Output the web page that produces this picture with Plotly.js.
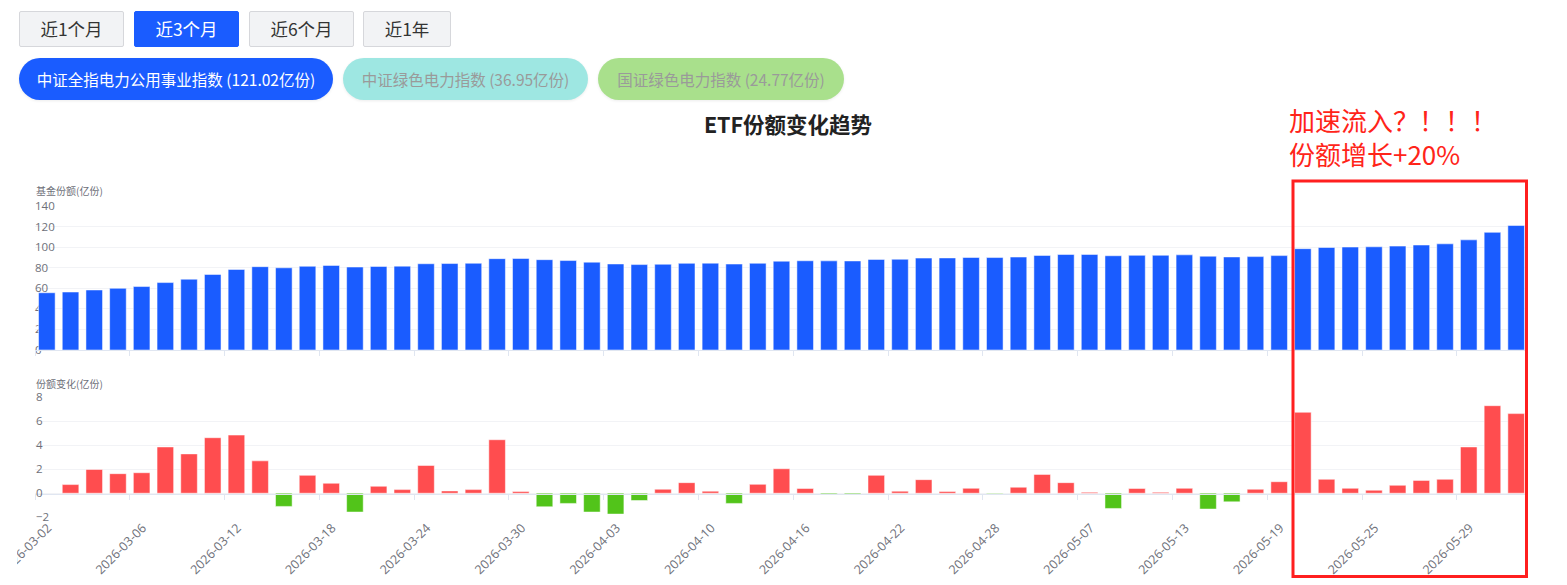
<!DOCTYPE html>
<html>
<head>
<meta charset="utf-8">
<script src="https://cdn.plot.ly/plotly-3.0.1.min.js"></script>
<style>
  html, body { margin: 0; padding: 0; background: #ffffff; overflow: hidden; }
  body { width: 1567px; height: 585px; position: relative; font-family: "Noto Sans CJK SC", "Noto Sans", sans-serif; }
  #chart { position: absolute; left: 17px; top: 0; width: 1550px; height: 585px; overflow: hidden; }
  .btn { position: absolute; top: 11px; height: 36px; box-sizing: border-box; border: 1px solid #d6d7db; background: #f2f3f5; color: #333; font-size: 17.5px; line-height: 34px; text-align: center; border-radius: 2px; z-index: 2; }
  .btn.active { background: #1a5cff; border-color: #1a5cff; color: #ffffff; }
  .pill { position: absolute; top: 58px; height: 42px; line-height: 42px; border-radius: 21px; font-size: 15.5px; text-align: center; z-index: 2; box-shadow: 0 1px 3px rgba(0,0,0,0.08); white-space: nowrap; }
</style>
</head>
<body>
<div id="chart"></div>
<div class="btn" style="left:19px;width:105px;">近1个月</div>
<div class="btn active" style="left:134px;width:105px;">近3个月</div>
<div class="btn" style="left:249px;width:105px;">近6个月</div>
<div class="btn" style="left:363px;width:88px;">近1年</div>
<div class="pill" style="left:19px;width:314px;background:#1a5cff;color:#ffffff;">中证全指电力公用事业指数 (121.02亿份)</div>
<div class="pill" style="left:343px;width:245px;background:#9ee7e2;color:#9a9a9a;">中证绿色电力指数 (36.95亿份)</div>
<div class="pill" style="left:598px;width:246px;background:#a9e08c;color:#9a9a9a;">国证绿色电力指数 (24.77亿份)</div>
<script>
const dates = [
  "2026-03-02","2026-03-03","2026-03-04","2026-03-05","2026-03-06",
  "2026-03-09","2026-03-10","2026-03-11","2026-03-12","2026-03-13",
  "2026-03-16","2026-03-17","2026-03-18","2026-03-19","2026-03-20",
  "2026-03-23","2026-03-24","2026-03-25","2026-03-26","2026-03-27",
  "2026-03-30","2026-03-31","2026-04-01","2026-04-02","2026-04-03",
  "2026-04-07","2026-04-08","2026-04-09","2026-04-10","2026-04-13",
  "2026-04-14","2026-04-15","2026-04-16","2026-04-17","2026-04-20",
  "2026-04-21","2026-04-22","2026-04-23","2026-04-24","2026-04-27",
  "2026-04-28","2026-04-29","2026-04-30","2026-05-06","2026-05-07",
  "2026-05-08","2026-05-11","2026-05-12","2026-05-13","2026-05-14",
  "2026-05-15","2026-05-18","2026-05-19","2026-05-20","2026-05-21",
  "2026-05-22","2026-05-25","2026-05-26","2026-05-27","2026-05-28",
  "2026-05-29","2026-06-01","2026-06-02"
];
const shares = [
  55.65, 56.37, 58.35, 59.98, 61.69, 65.55, 68.83, 73.46, 78.31, 81.01,
  79.91, 81.40, 82.23, 80.66, 81.24, 81.54, 83.85, 84.04, 84.34, 88.80,
  88.94, 87.81, 86.96, 85.39, 83.65, 83.04, 83.37, 84.25, 84.42, 83.57,
  84.31, 86.35, 86.74, 86.66, 86.58, 88.07, 88.24, 89.37, 89.51, 89.92,
  89.87, 90.37, 91.94, 92.82, 92.90, 91.63, 92.02, 92.10, 92.51, 91.19,
  90.47, 90.80, 91.76, 98.51, 99.67, 100.08, 100.33, 100.99, 102.06, 103.22,
  107.08, 114.38, 121.02
];
const changes = [
  null, 0.72, 1.98, 1.63, 1.71, 3.86, 3.28, 4.63, 4.85, 2.70,
  -1.10, 1.49, 0.83, -1.57, 0.58, 0.30, 2.31, 0.19, 0.30, 4.46,
  0.14, -1.13, -0.85, -1.57, -1.74, -0.61, 0.33, 0.88, 0.17, -0.85,
  0.74, 2.04, 0.39, -0.08, -0.08, 1.49, 0.17, 1.13, 0.14, 0.41,
  -0.05, 0.50, 1.57, 0.88, 0.08, -1.27, 0.39, 0.08, 0.41, -1.32,
  -0.72, 0.33, 0.96, 6.75, 1.16, 0.41, 0.25, 0.66, 1.07, 1.16,
  3.86, 7.30, 6.64
];

// chart container starts 17px from the page edge
const OFF = 17, W = 1550, H = 585;
const px = v => (v - OFF) / W;
const py = v => 1 - v / H;
const xDom = [px(35), px(1528)];
const xRange = [-0.5, dates.length - 0.5];
const yTickFont = { family: "Open Sans, Noto Sans CJK SC, sans-serif", size: 11.5, color: "#6e7079" };
const xTickFont = { family: "Open Sans, Noto Sans CJK SC, sans-serif", size: 12.5, color: "#6e7079" };
const lineCol = "#e0e6f1";
const gridCol = "#f2f3f6";

const changeColors = changes.map(v => (v !== null && v < 0) ? "#52c41a" : "#ff4d4f");

const traces = [
  // carrier for the top value axis (labels sit beneath the bars)
  {
    type: "scatter", mode: "markers", x: dates, y: dates.map(() => null),
    xaxis: "x", yaxis: "y", hoverinfo: "skip", showlegend: false
  },
  {
    type: "bar", x: dates, y: changes, xaxis: "x2", yaxis: "y2",
    marker: { color: changeColors, line: { color: "rgba(255,255,255,0.5)", width: 1 } },
    hoverinfo: "x+y", showlegend: false
  },
  {
    type: "scatter", mode: "markers", x: dates, y: dates.map(() => null),
    xaxis: "x3", yaxis: "y2", hoverinfo: "skip", showlegend: false
  },
  {
    type: "bar", x: dates, y: shares, xaxis: "x4", yaxis: "y4",
    marker: { color: "#1a5cff", line: { color: "rgba(255,255,255,0.5)", width: 1 } },
    hoverinfo: "x+y", showlegend: false
  }
];

const baseX = {
  domain: xDom, type: "category", range: xRange, fixedrange: true,
  tickmode: "linear", tick0: 0, dtick: 4, showgrid: false, zeroline: false
};

const baseY = {
  fixedrange: true, zeroline: false, showline: false, ticks: "",
  showgrid: true, gridcolor: gridCol, gridwidth: 1,
  ticklabelposition: "inside", ticklabeloverflow: "allow",
  tickfont: yTickFont
};

const topDom = [py(350), py(206)];

const layout = {
  width: W, height: H,
  margin: { l: 0, r: 0, t: 0, b: 0, pad: 0 },
  paper_bgcolor: "rgba(0,0,0,0)", plot_bgcolor: "rgba(0,0,0,0)",
  font: { family: "Noto Sans CJK SC, sans-serif", color: "#333" },
  bargap: 0.3,
  title: {
    text: "<b>ETF份额变化趋势</b>",
    x: px(788), xanchor: "center", xref: "paper",
    y: py(125), yanchor: "middle", yref: "container",
    font: { family: "Noto Sans CJK SC, sans-serif", size: 21.5, color: "#222" }
  },
  xaxis: Object.assign({}, baseX, {
    anchor: "y", showline: false, ticks: "", showticklabels: false
  }),
  yaxis: Object.assign({}, baseY, {
    domain: topDom, anchor: "x", range: [0, 140], dtick: 20,
    ticklabelstandoff: -3
  }),
  xaxis4: Object.assign({}, baseX, {
    anchor: "y4", showline: true, linecolor: lineCol, linewidth: 1,
    ticks: "outside", tickson: "boundaries", ticklen: 5, tickcolor: lineCol,
    showticklabels: false
  }),
  yaxis4: {
    domain: topDom, anchor: "x4", range: [0, 140], fixedrange: true,
    showgrid: false, zeroline: false, showline: false, ticks: "", showticklabels: false
  },
  xaxis2: Object.assign({}, baseX, {
    anchor: "y2", showline: false, ticks: "", showticklabels: true,
    tickangle: -45, tickfont: xTickFont, automargin: false, ticklabelshift: 1
  }),
  yaxis2: Object.assign({}, baseY, {
    domain: [py(517.2), py(397.3)], anchor: "x2", range: [-2, 8], dtick: 2,
    ticklabelstandoff: -2
  }),
  xaxis3: Object.assign({}, baseX, {
    overlaying: "x2", anchor: "free", position: py(494),
    showline: true, linecolor: lineCol, linewidth: 1,
    ticks: "outside", tickson: "boundaries", ticklen: 5, tickcolor: lineCol,
    showticklabels: false
  }),
  annotations: [
    { text: "基金份额(亿份)", xref: "paper", yref: "paper", x: px(34), y: py(191),
      xanchor: "left", yanchor: "middle", showarrow: false,
      font: { family: "Noto Sans CJK SC, sans-serif", size: 10, color: "#6e7079" } },
    { text: "份额变化(亿份)", xref: "paper", yref: "paper", x: px(34), y: py(383),
      xanchor: "left", yanchor: "middle", showarrow: false,
      font: { family: "Noto Sans CJK SC, sans-serif", size: 10, color: "#6e7079" } },
    { text: "加速流入？！！！", xref: "paper", yref: "paper", x: px(1287), y: py(120),
      xanchor: "left", yanchor: "middle", showarrow: false,
      font: { family: "Noto Sans CJK SC, sans-serif", size: 26, color: "#ff2419" } },
    { text: "份额增长+20%", xref: "paper", yref: "paper", x: px(1287), y: py(154),
      xanchor: "left", yanchor: "middle", showarrow: false,
      font: { family: "Noto Sans CJK SC, sans-serif", size: 26, color: "#ff2419" } }
  ],
  shapes: [
    { type: "rect", xref: "paper", yref: "paper",
      x0: px(1293), x1: px(1526.5), y0: py(576.5), y1: py(181),
      line: { color: "#ff1f1f", width: 3 }, fillcolor: "rgba(0,0,0,0)", layer: "above" }
  ]
};

Plotly.newPlot("chart", traces, layout, { displayModeBar: false, staticPlot: true });
</script>
</body>
</html>
